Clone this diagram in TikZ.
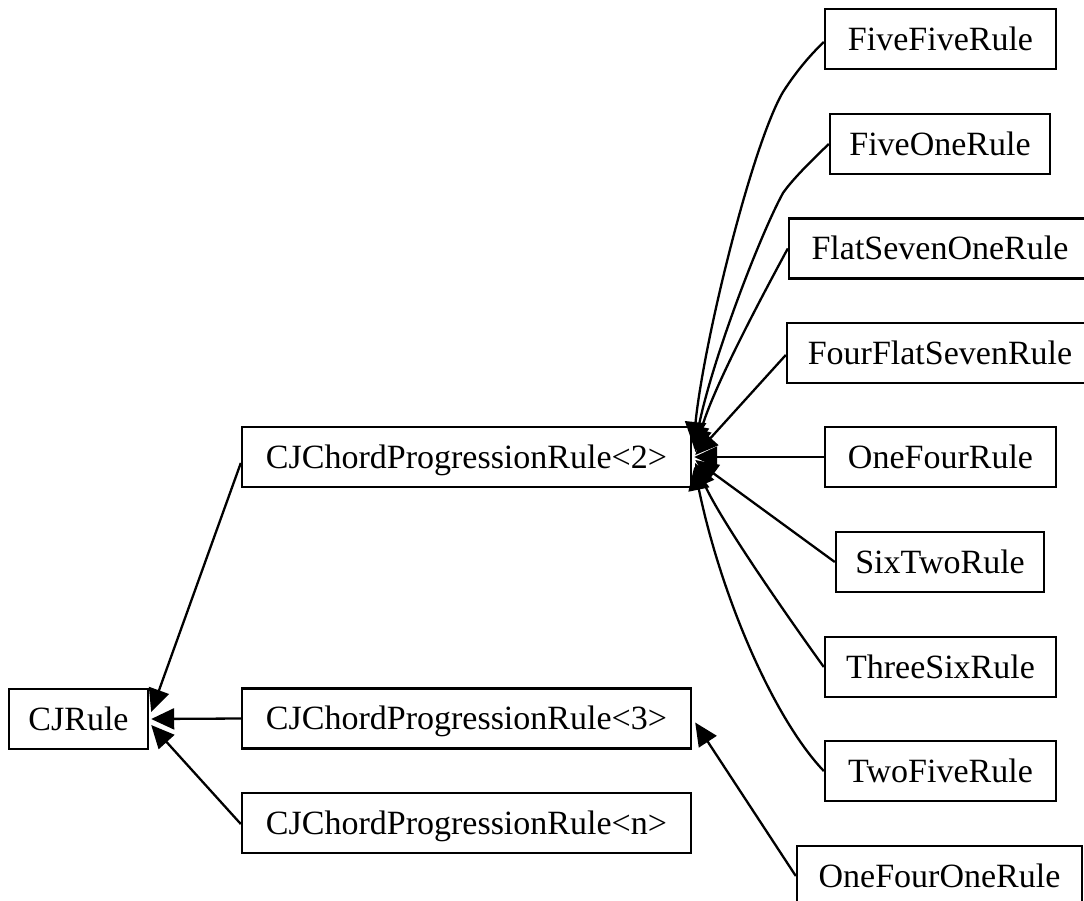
\documentclass[tikz,border=0pt]{standalone}
\usepackage{fontspec}
\setmainfont{Liberation Serif}
\usetikzlibrary{arrows.meta}
\begin{document}
\begin{tikzpicture}[x=1pt,y=-1pt,
  cls/.style={draw, line width=2.4pt, rectangle, inner sep=0pt,
    minimum height=60pt, font=\fontsize{34}{40}\selectfont,
    text height=22.5pt, text depth=0pt, anchor=center},
  inh/.style={line width=2.3pt, -{Triangle[length=23pt,width=21pt]}}
]
\useasboundingbox (0,0) rectangle (1084,900);
\clip (0,0) rectangle (1084,900);

% base class and the progression templates
\node[cls, minimum width=139pt] (cj) at (78.5,719) {CJRule};
\node[cls, minimum width=449pt] (p2) at (466.5,457) {CJChordProgressionRule<2>};
\node[cls, minimum width=449pt] (p3) at (466.5,718.5) {CJChordProgressionRule<3>};
\node[cls, minimum width=449pt] (pn) at (466.5,823) {CJChordProgressionRule<n>};

% concrete rules
\node[cls, minimum width=231pt] (ff)  at (940.5,39)  {FiveFiveRule};
\node[cls, minimum width=220pt] (fo)  at (940,144)   {FiveOneRule};
\node[cls, minimum width=302pt] (fs)  at (940,248.5) {FlatSevenOneRule};
\node[cls, minimum width=306pt] (ffs) at (940,353)   {FourFlatSevenRule};
\node[cls, minimum width=231pt] (of)  at (940.5,457) {OneFourRule};
\node[cls, minimum width=208pt] (st)  at (940,562)   {SixTwoRule};
\node[cls, minimum width=231pt] (ts)  at (940.5,667) {ThreeSixRule};
\node[cls, minimum width=231pt] (tf)  at (940.5,771) {TwoFiveRule};
\node[cls, minimum width=285pt] (ofo) at (939.5,876) {OneFourOneRule};

% inheritance into CJRule
\draw[inh] ([yshift=-6pt]p2.west) -- ([xshift=2pt,yshift=7pt]cj.east);
\draw[inh] (p3.west) -- ([xshift=2pt]cj.east);
\draw[inh] ([yshift=-1pt]pn.west) -- ([xshift=2pt,yshift=-6pt]cj.east);

% inheritance into CJChordProgressionRule<2>
\draw[inh] ([yshift=-3pt]ff.west) .. controls (805,60) and (792,78) .. (783,92)
  .. controls (752,145) and (704,340) .. ([xshift=1pt,yshift=12pt]p2.east);
\draw[inh] (fo.west) .. controls (810,162) and (792,180) .. (783,193)
  .. controls (760,235) and (712,360) .. ([xshift=2pt,yshift=8pt]p2.east);
\draw[inh] (fs.west) .. controls (760,300) and (712,390) .. ([xshift=3pt,yshift=5pt]p2.east);
\draw[inh] ([yshift=-2pt]ffs.west) -- ([xshift=3pt,yshift=2pt]p2.east);
\draw[inh] (of.west) -- ([xshift=2pt]p2.east);
\draw[inh] (st.west) -- ([xshift=3pt,yshift=-3pt]p2.east);
\draw[inh] (ts.west) .. controls (790,620) and (720,520) .. ([xshift=3pt,yshift=-6pt]p2.east);
\draw[inh] (tf.west) .. controls (775,720) and (722,600) .. ([xshift=2pt,yshift=-10pt]p2.east);

% inheritance into CJChordProgressionRule<3>
\draw[inh] (ofo.west) -- ([xshift=3pt,yshift=-4pt]p3.east);
\end{tikzpicture}
\end{document}
